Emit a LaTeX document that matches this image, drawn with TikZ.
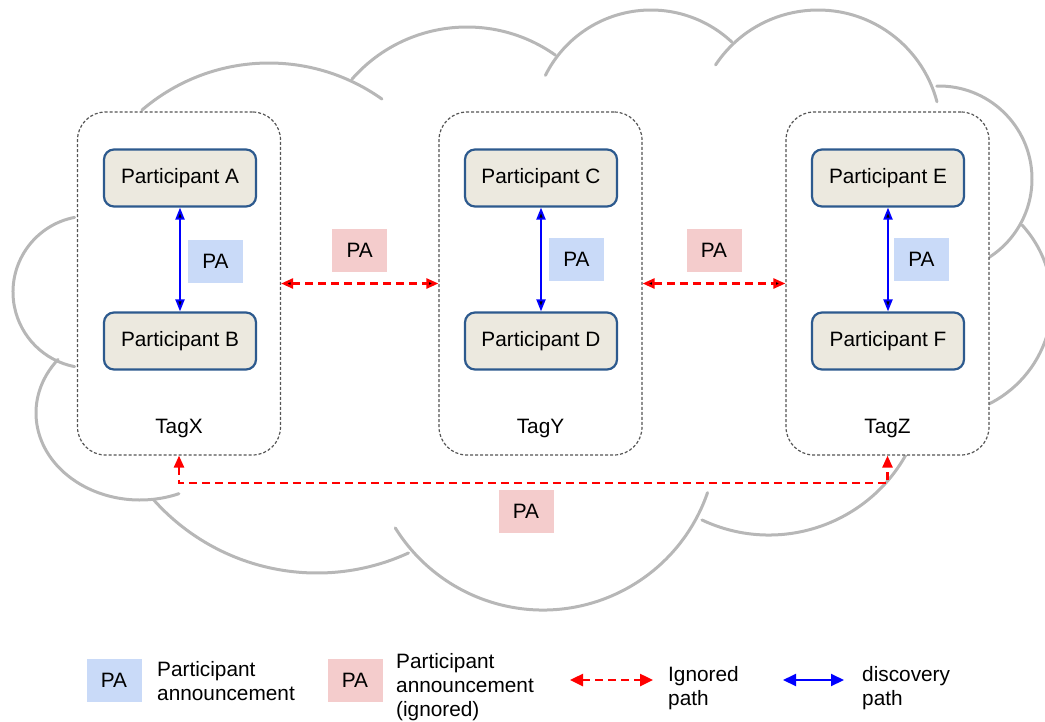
\documentclass[tikz,border=0pt]{standalone}
\usepackage{fontspec}
\setmainfont{Liberation Sans}
\usepackage{tikz}
\usetikzlibrary{positioning,arrows.meta}
\definecolor{cloudgray}{HTML}{B7B7B7}
\definecolor{tagline}{HTML}{555555}
\definecolor{partfill}{HTML}{ECE9DF}
\definecolor{partline}{HTML}{2D5A8E}
\definecolor{pablue}{HTML}{C9DAF8}
\definecolor{pared}{HTML}{F4CCCC}

\begin{document}
\begin{tikzpicture}[x=1pt,y=1pt,node distance=163pt,on grid,auto,
    font=\fontsize{20.8}{24}\selectfont,
    cloud/.style={draw=cloudgray,line width=3pt,line cap=round},
    tagbox/.style={draw=tagline,fill=white,line width=1.2pt,dash pattern=on 3pt off 2pt,rounded corners=28pt,minimum width=203pt,minimum height=343pt},
    participant/.style={draw=partline,fill=partfill,line width=2.2pt,rounded corners=10pt,minimum width=152pt,minimum height=57pt,inner sep=0pt},
    paknown/.style={fill=pablue,minimum width=55pt,minimum height=43pt,inner sep=0pt},
    paignored/.style={fill=pared,minimum width=55pt,minimum height=43pt,inner sep=0pt},
    discovery/.style={draw=blue,line width=2pt,{Triangle[length=12pt,width=9pt]}-{Triangle[length=12pt,width=9pt]}},
    ignored/.style={draw=red,line width=2.5pt,dash pattern=on 8pt off 5pt,{Triangle[length=12pt,width=10pt]}-{Triangle[length=12pt,width=10pt]}},
    keytip/.style={{Triangle[length=13pt,width=12pt]}-{Triangle[length=13pt,width=12pt]}},
    keytext/.style={anchor=west,align=left,inner sep=0pt}]
    \useasboundingbox (0,0) rectangle (1045,-721);

    % cloud
    \draw[cloud] (269,-258) ++(130.7:195pt) arc[start angle=130.7,end angle=54.6,radius=195pt];
    \draw[cloud] (467,-180) ++(138.8:153pt) arc[start angle=138.8,end angle=54.7,radius=153pt];
    \draw[cloud] (651,-128) ++(153.5:118pt) arc[start angle=153.5,end angle=46.7,radius=118pt];
    \draw[cloud] (818,-133) ++(146.4:123pt) arc[start angle=146.4,end angle=14.7,radius=123pt];
    \draw[cloud] (939,-179) ++(91.4:93pt) arc[start angle=91.4,end angle=-59,radius=93pt];
    \draw[cloud] (938,-302) ++(42.6:114pt) arc[start angle=42.6,end angle=-64.7,radius=114pt];
    \draw[cloud] (769,-378) ++(-26.1:157pt) arc[start angle=-26.1,end angle=-115.3,radius=157pt];
    \draw[cloud] (543,-436) ++(-19:174pt) arc[start angle=-19,end angle=-148.1,radius=174pt];
    \draw[cloud] (317,-354) ++(-65.3:219pt) arc[start angle=-65.3,end angle=-138.2,radius=219pt];
    \draw[cloud] (140,-413) ++(142:104pt and 87pt) arc[start angle=142,end angle=292,x radius=104pt,y radius=87pt];
    \draw[cloud] (89,-292) ++(100.9:76pt) arc[start angle=100.9,end angle=259.1,radius=76pt];

    % tags
    \node[tagbox] (tagx) at (179,-283.5) {};
    \node[tagbox] (tagy) at (540.5,-283.5) {};
    \node[tagbox] (tagz) at (887.5,-283.5) {};
    \node (tagxl) [above=14pt of tagx.south] {TagX};
    \node (tagyl) [above=14pt of tagy.south] {TagY};
    \node (tagzl) [above=14pt of tagz.south] {TagZ};

    % participants
    \node[participant] (a) at (180,-178) {Participant A};
    \node[participant] (b) [below=of a] {Participant B};
    \node[participant] (c) at (541,-178) {Participant C};
    \node[participant] (d) [below=of c] {Participant D};
    \node[participant] (e) at (888,-178) {Participant E};
    \node[participant] (f) [below=of e] {Participant F};

    \path[discovery]
    (a) edge node[paknown,right=7pt,yshift=-2pt] {PA} (b)
    (c) edge node[paknown,right=7pt] {PA} (d)
    (e) edge node[paknown,right=5pt] {PA} (f);

    \path[ignored]
    (tagx) edge node[paignored,above=10pt] {PA} (tagy)
    (tagy) edge node[paignored,above=10pt] {PA} (tagz);

    \coordinate (low) at (534,-483);
    \draw[ignored] (tagx.south) |- (low) -| (tagz.south);
    \node[paignored] (pabottom) at (526,-511) {PA};

    % legend
    \node[paknown] (keyknown) at (114,-680) {PA};
    \node[keytext] (keyknowntext) at (157,-681) {Participant\\announcement};
    \node[paignored] (keyignored) at (355,-680) {PA};
    \node[keytext] (keyignoredtext) at (396,-687) {Participant\\announcement\\(ignored)};
    \coordinate (keyredl) at (570,-680);
    \coordinate (keyredr) at (653,-680);
    \draw[ignored,keytip] (keyredl) -- (keyredr);
    \node[keytext] (keyredtext) at (668,-688) {Ignored\\path};
    \coordinate (keybluel) at (783,-680);
    \coordinate (keybluer) at (844,-680);
    \draw[discovery,keytip] (keybluel) -- (keybluer);
    \node[keytext] (keybluetext) at (862,-688) {discovery\\path};
\end{tikzpicture}
\end{document}
